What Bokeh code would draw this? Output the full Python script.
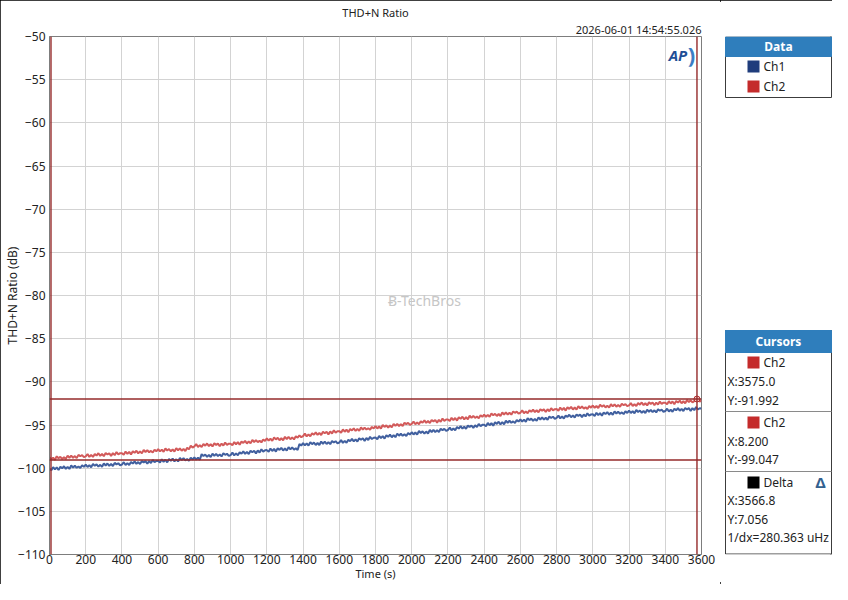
from bokeh.plotting import figure
from bokeh.layouts import row
from bokeh.models import (Span, Label, Range1d, FixedTicker, Title, Plot,
                          ColumnDataSource, Quad, Text, Segment)
from bokeh.core.properties import value
from bokeh.embed import file_html
from bokeh.resources import INLINE

# ---------------- data ----------------
ch2_db = [
    -98.74, -99.00, -98.79, -99.03, -98.63, -98.85, -98.68, -98.94, -98.72, -98.94, -98.55, -98.79, -98.55, -98.81, -98.60, -98.83, -98.46, -98.62, -98.49, -98.73,
    -98.63, -98.36, -98.69, -98.47, -98.70, -98.35, -98.54, -98.27, -98.57, -98.36, -98.61, -98.25, -98.42, -98.27, -98.58, -98.26, -98.49, -98.14, -98.41, -98.26,
    -98.26, -98.44, -98.08, -98.35, -98.11, -98.41, -98.04, -98.22, -97.98, -98.28, -98.05, -98.29, -97.89, -98.13, -97.92, -98.16, -98.00, -98.19, -97.86, -98.05,
    -97.79, -98.06, -97.85, -98.10, -97.72, -97.95, -97.78, -98.05, -97.84, -98.07, -97.68, -97.93, -97.70, -97.98, -97.77, -98.01, -97.65, -97.82, -97.40, -97.61,
    -97.48, -97.21, -97.54, -97.33, -97.56, -97.21, -97.40, -97.14, -97.44, -97.23, -97.48, -97.13, -97.30, -97.15, -97.46, -97.15, -97.38, -97.03, -97.30, -97.16,
    -97.16, -97.34, -96.97, -97.23, -96.99, -97.29, -96.91, -97.08, -96.84, -97.14, -96.90, -97.13, -96.73, -96.97, -96.75, -96.98, -96.82, -97.01, -96.67, -96.85,
    -96.54, -96.81, -96.59, -96.84, -96.44, -96.67, -96.49, -96.76, -96.54, -96.77, -96.37, -96.62, -96.38, -96.65, -96.43, -96.67, -96.31, -96.47, -96.20, -96.41,
    -96.28, -96.00, -96.32, -96.09, -96.31, -95.95, -96.13, -95.85, -96.14, -95.92, -96.16, -95.79, -95.95, -95.79, -96.09, -95.76, -95.98, -95.62, -95.88, -95.72,
    -95.71, -95.89, -95.52, -95.78, -95.54, -95.84, -95.46, -95.63, -95.39, -95.69, -95.45, -95.68, -95.28, -95.52, -95.30, -95.53, -95.37, -95.56, -95.22, -95.40,
    -95.14, -95.40, -95.17, -95.41, -95.00, -95.22, -95.03, -95.29, -95.06, -95.28, -94.87, -95.11, -94.86, -95.12, -94.89, -95.12, -94.74, -94.90, -94.75, -94.99,
    -94.88, -94.60, -94.92, -94.70, -94.92, -94.56, -94.74, -94.47, -94.76, -94.54, -94.78, -94.42, -94.58, -94.42, -94.72, -94.40, -94.62, -94.26, -94.52, -94.37,
    -94.36, -94.54, -94.17, -94.43, -94.19, -94.49, -94.11, -94.28, -94.04, -94.34, -94.10, -94.33, -93.93, -94.17, -93.95, -94.18, -94.02, -94.21, -93.87, -94.05,
    -93.79, -94.05, -93.83, -94.06, -93.66, -93.88, -93.70, -93.95, -93.73, -93.95, -93.55, -93.78, -93.54, -93.80, -93.58, -93.80, -93.43, -93.59, -93.45, -93.68,
    -93.58, -93.31, -93.63, -93.42, -93.64, -93.29, -93.47, -93.21, -93.50, -93.29, -93.53, -93.18, -93.34, -93.19, -93.49, -93.18, -93.40, -93.05, -93.31, -93.17,
    -93.16, -93.35, -92.98, -93.26, -93.02, -93.33, -92.95, -93.14, -92.90, -93.21, -92.97, -93.22, -92.82, -93.07, -92.85, -93.10, -92.94, -93.14, -92.80, -93.00,
    -92.74, -93.01, -92.80, -93.04, -92.65, -92.88, -92.71, -92.97, -92.76, -92.99, -92.60, -92.84, -92.61, -92.88, -92.67, -92.90, -92.54, -92.71, -92.58, -92.82,
    -92.73, -92.46, -92.79, -92.58, -92.81, -92.46, -92.65, -92.39, -92.69, -92.48, -92.73, -92.38, -92.55, -92.40, -92.71, -92.40, -92.63, -92.28, -92.55, -92.41,
    -92.41, -92.60, -92.24, -92.51, -92.28, -92.59, -92.22, -92.40, -92.17, -92.48, -92.25, -92.49, -92.10, -92.35, -92.14, -92.38, -92.23, -91.99, -92.10, -92.29,
    -92.12,
]

ch1_db = [
    -100.06, -100.24, -99.88, -100.15, -99.91, -100.21, -99.84, -100.02, -99.78, -100.08, -99.85, -100.09, -99.69, -99.93, -99.72, -99.96, -99.80, -99.99, -99.66, -99.85,
    -99.59, -99.86, -99.65, -99.89, -99.50, -99.73, -99.56, -99.82, -99.61, -99.84, -99.45, -99.69, -99.46, -99.73, -99.52, -99.75, -99.39, -99.56, -99.43, -99.67,
    -99.58, -99.31, -99.63, -99.42, -99.64, -99.29, -99.47, -99.21, -99.50, -99.29, -99.53, -99.18, -99.34, -99.19, -99.49, -99.18, -99.40, -99.05, -99.31, -99.17,
    -99.16, -99.35, -98.98, -99.26, -99.02, -99.33, -98.95, -99.14, -98.90, -99.21, -98.97, -99.22, -98.82, -99.07, -98.85, -99.10, -98.94, -99.14, -98.80, -99.00,
    -98.74, -99.00, -98.79, -99.03, -98.38, -98.59, -98.42, -98.69, -98.48, -98.71, -98.32, -98.57, -98.34, -98.61, -98.40, -98.64, -98.28, -98.45, -98.33, -98.58,
    -98.48, -98.20, -98.52, -98.29, -98.51, -98.15, -98.33, -98.05, -98.34, -98.12, -98.36, -97.99, -98.15, -97.99, -98.29, -97.96, -98.18, -97.82, -98.08, -97.92,
    -97.91, -98.10, -97.73, -98.01, -97.77, -98.08, -97.70, -97.89, -97.65, -97.96, -97.72, -97.97, -97.57, -97.82, -97.60, -97.85, -97.70, -97.89, -97.22, -97.38,
    -97.09, -97.36, -97.14, -97.39, -96.99, -97.22, -97.04, -97.31, -97.09, -97.32, -96.92, -97.17, -96.93, -97.20, -96.98, -97.22, -96.85, -97.02, -96.88, -97.13,
    -97.03, -96.75, -97.07, -96.84, -97.06, -96.70, -96.88, -96.60, -96.89, -96.67, -96.91, -96.54, -96.70, -96.54, -96.84, -96.51, -96.73, -96.37, -96.63, -96.47,
    -96.46, -96.64, -96.26, -96.53, -96.28, -96.58, -96.19, -96.37, -96.12, -96.42, -96.17, -96.41, -96.00, -96.24, -96.01, -96.25, -96.08, -96.27, -95.92, -96.11,
    -95.84, -96.10, -95.87, -96.11, -95.70, -95.92, -95.73, -95.99, -95.76, -95.98, -95.57, -95.81, -95.56, -95.82, -95.59, -95.82, -95.44, -95.60, -95.45, -95.69,
    -95.58, -95.30, -95.61, -95.39, -95.60, -95.24, -95.41, -95.14, -95.42, -95.20, -95.43, -95.07, -95.22, -95.06, -95.35, -95.03, -95.24, -94.88, -95.13, -94.98,
    -94.96, -95.14, -94.76, -95.03, -94.78, -95.08, -94.69, -94.87, -94.62, -94.92, -94.67, -94.91, -94.50, -94.74, -94.51, -94.75, -94.58, -94.77, -94.42, -94.61,
    -94.34, -94.60, -94.38, -94.62, -94.22, -94.44, -94.26, -94.52, -94.30, -94.52, -94.12, -94.36, -94.12, -94.38, -94.16, -94.39, -94.02, -94.18, -94.04, -94.28,
    -94.18, -93.91, -94.23, -94.02, -94.24, -93.89, -94.07, -93.81, -94.10, -93.89, -94.13, -93.78, -93.94, -93.79, -94.09, -93.78, -94.00, -93.65, -93.91, -93.77,
    -93.76, -93.95, -93.58, -93.86, -93.62, -93.93, -93.55, -93.74, -93.50, -93.81, -93.57, -93.82, -93.42, -93.67, -93.45, -93.70, -93.54, -93.74, -93.40, -93.60,
    -93.34, -93.61, -93.40, -93.65, -93.26, -93.49, -93.32, -93.59, -93.38, -93.61, -93.22, -93.47, -93.24, -93.51, -93.30, -93.54, -93.18, -93.35, -93.22, -93.47,
    -93.38, -93.11, -93.44, -93.23, -93.46, -93.11, -93.30, -93.04, -93.34, -93.13, -93.38, -93.03, -93.20, -93.05, -93.36, -93.05, -93.28, -92.93, -93.20, -93.06,
    -93.08,
]

sample_step_s = 10
ch1_time = [sample_step_s * i for i in range(len(ch1_db))]
ch2_time = [sample_step_s * i for i in range(len(ch2_db))]

x_ticks = [0, 200, 400, 600, 800, 1000, 1200, 1400, 1600, 1800, 2000, 2200, 2400,
           2600, 2800, 3000, 3200, 3400, 3600]
y_ticks = [-50, -55, -60, -65, -70, -75, -80, -85, -90, -95, -100, -105, -110]

cursor_a_x, cursor_a_y = 3575.0, -91.992
cursor_b_x, cursor_b_y = 8.200, -99.047
delta_x, delta_y, inv_dx = "3566.8", "7.056", "280.363 uHz"

title_text = "THD+N Ratio"
timestamp_text = "2026-06-01 14:54:55.026"
legend_names = ["Ch1", "Ch2"]

# ---------------- styling ----------------
FONT = "Noto Sans"
CH1_LINE, CH2_LINE = "#41609f", "#d25a5a"
CH1_SW, CH2_SW = "#1f3c7c", "#c42b2b"
CURSOR = "#952a2a"
HEADER = "#2f7ebc"
MAIN_W, SIDE_W, H = 720, 112, 584
TOP, BOTTOM = 36, 30          # borders of the main plot -> frame spans 36..554
FRAME_T, FRAME_B = TOP, H - BOTTOM

p = figure(width=MAIN_W, height=H, output_backend="svg", toolbar_location=None,
           x_range=Range1d(0, 3600), y_range=Range1d(-110, -50),
           min_border_left=49, min_border_right=MAIN_W - 701,
           min_border_top=TOP, min_border_bottom=BOTTOM)
try:
    p.title = None
except Exception:
    p.title.text = ""
p.background_fill_color = "white"
p.border_fill_color = "white"
p.outline_line_color = "#7d7d7d"

p.add_layout(Title(text=timestamp_text, align="right", text_font=FONT,
                   text_font_size="11px", text_font_style="normal",
                   text_color="#222222", standoff=0), "above")
p.add_layout(Title(text=title_text, align="center", text_font=FONT,
                   text_font_size="11px", text_font_style="normal",
                   text_color="#222222", standoff=0), "above")

for ax in (p.xaxis[0], p.yaxis[0]):
    ax.major_tick_out = 0
    ax.major_tick_in = 0
    ax.minor_tick_out = 0
    ax.minor_tick_in = 0
    ax.axis_line_color = "#7d7d7d"
    ax.major_label_text_font = FONT
    ax.major_label_text_font_size = "12px"
    ax.major_label_text_color = "#222222"
    ax.axis_label_text_font = FONT
    ax.axis_label_text_font_size = "12px"
    ax.axis_label_text_font_style = "normal"
    ax.axis_label_text_color = "#222222"
p.xaxis.ticker = FixedTicker(ticks=x_ticks)
p.yaxis.ticker = FixedTicker(ticks=y_ticks)
p.xaxis.major_label_standoff = 0
p.yaxis.major_label_standoff = 4
p.xaxis.axis_label = "Time (s)"
p.yaxis.axis_label = "THD+N Ratio (dB)"
p.xaxis.axis_label_text_font_size = "11px"
p.xaxis.axis_label_standoff = -1
p.yaxis.axis_label_standoff = -6

p.xgrid.grid_line_color = "#d3d3d3"
p.ygrid.grid_line_color = "#d3d3d3"
p.xgrid.ticker = FixedTicker(ticks=x_ticks)
p.ygrid.ticker = FixedTicker(ticks=y_ticks)

p.line(ch1_time, ch1_db, line_color=CH1_LINE, line_width=2.0)
p.line(ch2_time, ch2_db, line_color=CH2_LINE, line_width=2.0)

for loc, dim in ((cursor_a_x, "height"), (cursor_b_x, "height"),
                 (cursor_a_y, "width"), (cursor_b_y, "width")):
    p.add_layout(Span(location=loc, dimension=dim, line_color=CURSOR, line_width=1.4))
p.scatter([cursor_a_x], [cursor_a_y], marker="circle", size=6,
          fill_color="#f2c4c4", line_color="#b53333", line_width=1)

# watermark and AP logo (placed in data units inside the plot area)
p.add_layout(Label(x=2070, y=-80.6, text="Ƀ-TechBros", text_font=FONT,
                   text_font_size="14px", text_color="#c6c6c6",
                   text_align="center", text_baseline="middle"))
p.add_layout(Label(x=3470, y=-52.2, text="AP", text_font=FONT,
                   text_font_size="15px", text_color="#1f4f96",
                   text_font_style="bold italic",
                   text_align="center", text_baseline="middle"))
p.add_layout(Label(x=3545, y=-52.0, text=")", text_font=FONT,
                   text_font_size="22px", text_color="#3b7dc4",
                   text_font_style="bold",
                   text_align="center", text_baseline="middle"))

# ---------------- side panels (Data legend + Cursors readout) ----------------
# the row aligns this plot's frame with the main frame, so its y range is
# expressed in the same page pixels (FRAME_T..FRAME_B)
s = Plot(width=SIDE_W, height=H, output_backend="svg", toolbar_location=None,
         x_range=Range1d(0, SIDE_W), y_range=Range1d(FRAME_B, FRAME_T),
         min_border=0, min_border_left=0, min_border_right=0,
         min_border_top=TOP, min_border_bottom=BOTTOM,
         outline_line_color=None, background_fill_color="white",
         border_fill_color="white")
try:
    s.title = None
except Exception:
    s.title.text = ""

PL, PR = 5, 111
TXT = dict(text_font=value(FONT), text_font_size="12px", text_baseline="middle")

bodies = ColumnDataSource(dict(l=[PL, PL], r=[PR, PR], t=[FRAME_T + 0.5, 330],
                               b=[97, FRAME_B - 0.5]))
s.add_glyph(bodies, Quad(left="l", right="r", top="t", bottom="b",
                         fill_color="white", line_color="#3c3c3c", line_width=1))
headers = ColumnDataSource(dict(l=[PL, PL], r=[PR, PR], t=[FRAME_T + 0.5, 330],
                                b=[56, 352]))
s.add_glyph(headers, Quad(left="l", right="r", top="t", bottom="b",
                          fill_color=HEADER, line_color=HEADER, line_width=1))
head_txt = ColumnDataSource(dict(x=[(PL + PR) / 2] * 2, y=[46, 341],
                                 text=["Data", "Cursors"]))
s.add_glyph(head_txt, Text(x="x", y="y", text="text", text_font_style="bold",
                           text_color="white", text_align="center", **TXT))
seps = ColumnDataSource(dict(x0=[PL, PL], x1=[PR, PR], y0=[411, 471], y1=[411, 471]))
s.add_glyph(seps, Segment(x0="x0", y0="y0", x1="x1", y1="y1",
                          line_color="#8a8a8a", line_width=1))
swatches = ColumnDataSource(dict(l=[27] * 5, r=[39] * 5,
                                 t=[60, 80, 356, 416, 476], b=[72, 92, 368, 428, 488],
                                 c=[CH1_SW, CH2_SW, CH2_SW, CH2_SW, "black"]))
s.add_glyph(swatches, Quad(left="l", right="r", top="t", bottom="b",
                           fill_color="c", line_color=None))
names = ColumnDataSource(dict(x=[43] * 5, y=[66, 86, 362, 422, 482],
                              text=legend_names + ["Ch2", "Ch2", "Delta"]))
s.add_glyph(names, Text(x="x", y="y", text="text", text_color="#222222",
                        text_align="left", **TXT))
readouts = [f"X:{cursor_a_x:.1f}", f"Y:{cursor_a_y:.3f}",
            f"X:{cursor_b_x:.3f}", f"Y:{cursor_b_y:.3f}",
            f"X:{delta_x}", f"Y:{delta_y}", f"1/dx={inv_dx}"]
read_src = ColumnDataSource(dict(x=[7] * 7, y=[381, 400, 441, 459, 500, 519, 537],
                                 text=readouts))
s.add_glyph(read_src, Text(x="x", y="y", text="text", text_color="#222222",
                           text_align="left", **TXT))
tri = ColumnDataSource(dict(x=[100], y=[481], text=["Δ"]))
s.add_glyph(tri, Text(x="x", y="y", text="text", text_font=value(FONT),
                      text_font_size="15px", text_font_style="bold",
                      text_color="#34618f", text_align="center",
                      text_baseline="middle"))

layout = row(p, s, spacing=0,
             styles={"outline": "2px solid #000000", "outline-offset": "-2px"})

open("out.html", "w").write(file_html(layout, INLINE))
